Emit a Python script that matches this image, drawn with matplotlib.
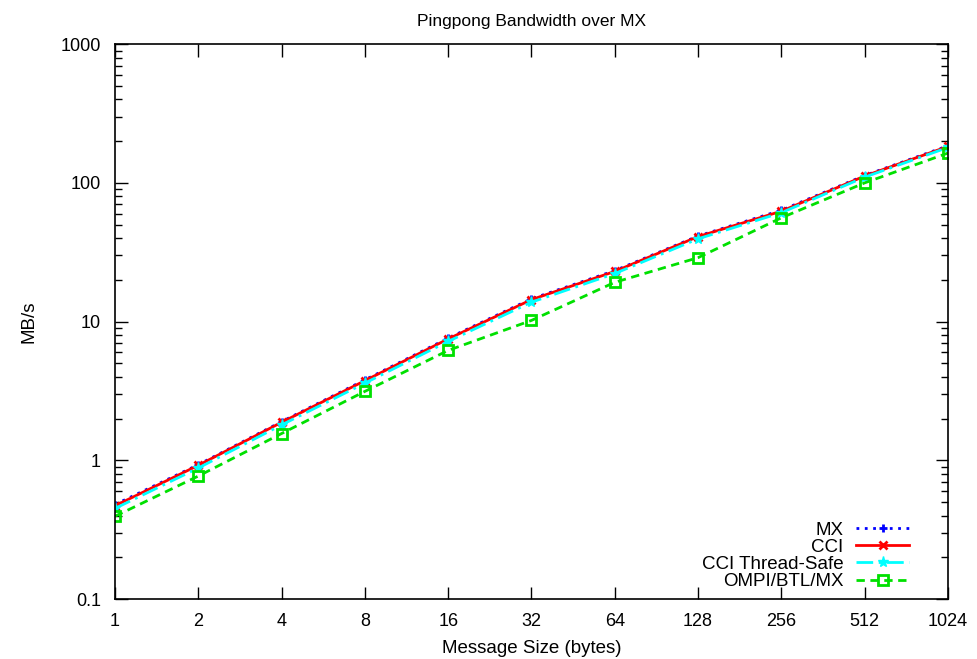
import matplotlib
matplotlib.use("Agg")
from matplotlib import pyplot as plt
from matplotlib.ticker import LogLocator, FixedLocator, NullFormatter, FixedFormatter

plt.rcParams['font.family'] = ['Liberation Sans', 'DejaVu Sans']

sizes = [1, 2, 4, 8, 16, 32, 64, 128, 256, 512, 1024]
size_labels = [str(s) for s in sizes]

mx = [0.48, 0.93, 1.90, 3.80, 7.6, 14.6, 23.3, 41.4, 63.5, 113, 185]
cci = [0.47, 0.92, 1.88, 3.75, 7.5, 14.4, 23.0, 41.0, 62.5, 112, 183]
cci_ts = [0.45, 0.88, 1.80, 3.60, 7.2, 13.8, 22.2, 39.5, 61.0, 110, 180]
ompi = [0.395, 0.77, 1.56, 3.14, 6.2, 10.2, 19.2, 28.9, 56.0, 100, 164]

fig = plt.figure(figsize=(9.78, 6.59), dpi=100)
ax = fig.add_axes([0.1176, 0.091, 0.8517, 0.842])

ax.plot(sizes, mx, color='#0000ff', linestyle=(0, (1, 2)), linewidth=2,
        marker='+', markersize=6, markeredgewidth=2, label='MX')
ax.plot(sizes, cci, color='#ff0000', linestyle='-', linewidth=2,
        marker='x', markersize=5.5, markeredgewidth=2, label='CCI')
ax.plot(sizes, cci_ts, color='#00ffff', linestyle=(0, (6, 2, 1, 2)), linewidth=2,
        marker='*', markersize=8, label='CCI Thread-Safe')
ax.plot(sizes, ompi, color='#00e000', linestyle=(0, (3, 2)), linewidth=2,
        marker='s', markersize=6.5, markerfacecolor='none', markeredgewidth=2,
        label='OMPI/BTL/MX')

ax.set_xscale('log', base=2)
ax.set_yscale('log')
ax.set_xlim(1, 1024)
ax.set_ylim(0.1, 1000)

ax.xaxis.set_major_locator(FixedLocator(sizes))
ax.xaxis.set_major_formatter(FixedFormatter(size_labels))
ax.xaxis.set_minor_locator(FixedLocator([]))
ax.set_yticks([0.1, 1, 10, 100, 1000])
ax.set_yticklabels(['0.1', '1', '10', '100', '1000'])
ax.yaxis.set_minor_locator(LogLocator(base=10, subs=range(2, 10)))
ax.yaxis.set_minor_formatter(NullFormatter())

ax.tick_params(which='both', direction='in', top=True, right=True, labelsize=13, width=1)
ax.tick_params(which='major', length=9)
ax.tick_params(which='minor', length=5)
ax.tick_params(axis='x', which='major', pad=10)
ax.tick_params(axis='y', which='major', pad=10)
for s in ax.spines.values():
    s.set_linewidth(1.2)

ax.set_xlabel('Message Size (bytes)', fontsize=13.5, labelpad=7)
ax.set_ylabel('MB/s', fontsize=13.5, labelpad=17)
ax.set_title('Pingpong Bandwidth over MX', fontsize=12.5, pad=13)

ax.legend(loc='lower right', bbox_to_anchor=(0.953, 0.016), frameon=False,
          markerfirst=False, fontsize=13.5, handlelength=2.8, handletextpad=0.7,
          labelspacing=0.0, borderpad=0, borderaxespad=0)

fig.savefig('out.png', dpi=100)
